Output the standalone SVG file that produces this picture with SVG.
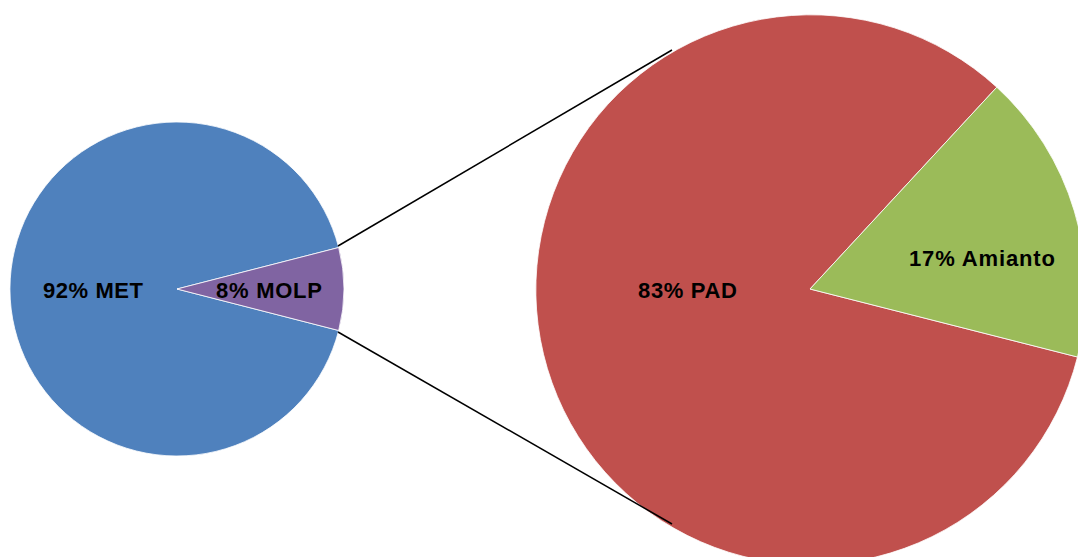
<svg xmlns="http://www.w3.org/2000/svg" width="1078" height="557" viewBox="0 0 1078 557">
<style>
.lbl{font-family:"Liberation Sans",Arial,sans-serif;font-weight:bold;font-size:22px;fill:#000}
.sl{stroke:#fff;stroke-width:0.8}
.conn{stroke:#000;stroke-width:1.5;fill:none}
</style>
<rect width="1078" height="557" fill="#fff"/>
<g id="pie-left">
<path id="met" class="sl" fill="#4F81BD" d="M177,289 L338.7,247.5 A167,167 0 1 0 338.7,330.5 Z"/>
<path id="molp" class="sl" fill="#8064A2" d="M177,289 L338.7,247.5 A167,167 0 0 1 338.7,330.5 Z"/>
<text class="lbl" x="43" y="298" textLength="100">92% MET</text>
<text class="lbl" x="216" y="298" textLength="106">8% MOLP</text>
</g>
<g id="pie-right">
<path id="pad" class="sl" fill="#C0504D" d="M810,289 L996.8,87.2 A275,275 0 1 0 1077.5,357 Z"/>
<path id="amianto" class="sl" fill="#9BBB59" d="M810,289 L996.8,87.2 A275,275 0 0 1 1077.5,357 Z"/>
<text class="lbl" x="638" y="298" textLength="99">83% PAD</text>
<text class="lbl" x="909" y="266" textLength="146">17% Amianto</text>
</g>
<g id="connectors">
<line class="conn" x1="338" y1="246" x2="672" y2="50"/>
<line class="conn" x1="338" y1="332" x2="672" y2="524"/>
</g>
</svg>
